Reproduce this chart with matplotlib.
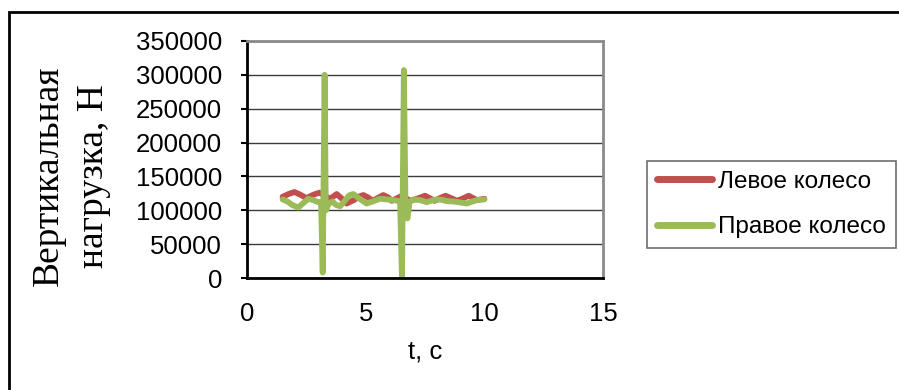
import matplotlib
matplotlib.use("Agg")
import matplotlib.pyplot as plt
from matplotlib.patches import Rectangle

# data
t_left = [1.5, 1.75, 2.0, 2.25, 2.5, 2.8, 3.05, 3.3, 3.5, 3.78, 4.0, 4.2, 4.5,
          4.7, 4.9, 5.1, 5.3, 5.5, 5.74, 5.95, 6.1, 6.3, 6.5, 6.7, 6.9, 7.2, 7.5,
          7.7, 7.9, 8.1, 8.36, 8.6, 8.85, 9.1, 9.34, 9.5, 9.7, 10.0]
f_left = [120000, 124000, 127000, 123000, 118000, 123000, 126000, 121000, 117000,
          124000, 117000, 110000, 115000, 120000, 122500, 119000, 114000, 118000,
          122500, 119000, 114000, 117500, 121000, 117500, 114000, 117500, 121500,
          118000, 114000, 117500, 121500, 118000, 114000, 117500, 121500, 118500,
          115000, 117000]

t_right = [1.5, 1.7, 1.9, 2.16, 2.35, 2.58, 2.8, 3.0, 3.12, 3.19, 3.27, 3.32, 3.45,
           3.6, 3.75, 3.92, 4.1, 4.3, 4.48, 4.7, 5.04, 5.3, 5.6, 5.9, 6.2, 6.45,
           6.53, 6.61, 6.68, 6.76, 6.85, 7.0, 7.3, 7.57, 7.8, 8.0, 8.2, 8.42, 8.7,
           9.0, 9.26, 9.5, 9.75, 10.0]
f_right = [116000, 113000, 108000, 104000, 110000, 117000, 115000, 112000, 112000,
           8000, 300000, 100000, 110000, 113000, 108000, 106000, 113000, 122000,
           124000, 118000, 110000, 113000, 117000, 116000, 115000, 113000, 0,
           307000, 100000, 88000, 112000, 116000, 115000, 112000, 114500, 116000,
           115500, 113500, 113000, 111500, 110000, 113000, 115500, 116000]

series_names = ["Левое колесо", "Правое колесо"]
x_ticks = [0, 5, 10, 15]
y_ticks = [0, 50000, 100000, 150000, 200000, 250000, 300000, 350000]

plt.rcParams['font.family'] = ['Liberation Sans', 'DejaVu Sans']

fig = plt.figure(figsize=(8.99, 3.90), dpi=100)
ax = fig.add_axes([247/899, 1-278/390, (603-247)/899, (278-41)/390])

ax.plot(t_left, f_left, color='#C0504D', lw=4.2, solid_capstyle='round',
        solid_joinstyle='round', label=series_names[0])
ax.plot(t_right, f_right, color='#9BBB59', lw=4.2, solid_capstyle='round',
        solid_joinstyle='round', label=series_names[1])

ax.set_xlim(0, 15)
ax.set_ylim(0, 350000)
ax.set_xticks(x_ticks)
ax.set_yticks(y_ticks)
ax.set_yticklabels([str(v) for v in y_ticks])
ax.tick_params(axis='x', length=0, pad=17, labelsize=18.5)
ax.tick_params(axis='y', length=4, width=1.5, direction='out', pad=14, labelsize=18.5)
ax.grid(axis='y', color='#3a3a3a', lw=1.0)
ax.set_axisbelow(True)

for s in ['left', 'bottom']:
    ax.spines[s].set_color('black')
    ax.spines[s].set_linewidth(2)
for s in ['top', 'right']:
    ax.spines[s].set_color('#8a8a8a')
    ax.spines[s].set_linewidth(2)

ax.set_xlabel('t, c', fontsize=18.5, labelpad=10)
fig.text(71/899, 1-176/390, 'Вертикальная\nнагрузка, Н', rotation=90,
         ha='center', va='center', fontsize=27, family='Liberation Serif',
         linespacing=1.4)

leg = ax.legend(loc='center left', bbox_to_anchor=(647/899, 1-204.5/390),
                bbox_transform=fig.transFigure, borderaxespad=0, fontsize=17.5,
                handlelength=2.25, handletextpad=0.25, borderpad=0.42,
                labelspacing=0.95, fancybox=False, framealpha=1)
leg.get_frame().set_edgecolor('#6e6e6e')
leg.get_frame().set_linewidth(1.2)
for h in leg.get_lines():
    h.set_linewidth(5)

fig.patches.append(Rectangle((9/899, -0.1), 1.2, 1.1 - 12/390, fill=False,
                             ec='black', lw=2, transform=fig.transFigure))

fig.savefig('out.png', dpi=100)
